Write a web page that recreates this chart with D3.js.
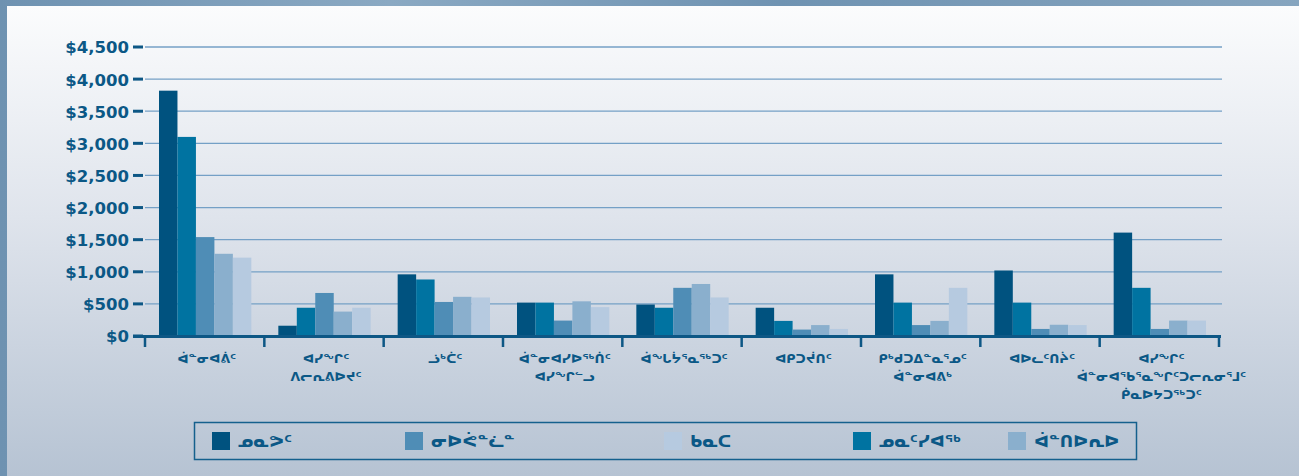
<!DOCTYPE html>
<html>
<head>
<meta charset="utf-8">
<script src="https://cdn.jsdelivr.net/npm/d3@7/dist/d3.min.js"></script>
<style>
  html, body { margin: 0; padding: 0; background: #6f93b2; }
  svg { display: block; }
</style>
</head>
<body>
<svg id="chart" width="1299" height="476"></svg>
<script>
// ---------- DATA ----------
const categories = [
  "ᐋᓐᓂᐊᕖᑦ",
  "ᐊᓯᖏᑦ\nᐱᓕᕆᕕᐅᔪᑦ",
  "ᓘᒃᑖᑦ",
  "ᐋᓐᓂᐊᓯᐅᖅᑏᑦ\nᐊᓯᖏᓪᓗ",
  "ᐋᖕᒐᔮᕐᓇᖅᑐᑦ",
  "ᐊᑭᑐᔫᑎᑦ",
  "ᑭᒃᑯᑐᐃᓐᓇᕐᓄᑦ\nᐋᓐᓂᐊᕕᒃ",
  "ᐊᐅᓚᑦᑎᔩᑦ",
  "ᐊᓯᖏᑦ\nᐋᓐᓂᐊᖃᕐᓇᖏᑦᑐᓕᕆᓂᕐᒧᑦ\nᑮᓇᐅᔭᑐᖅᑐᑦ"
];
const seriesNames = ["ᓄᓇᕗᑦ", "ᓄᓇᑦᓯᐊᖅ", "ᓂᐅᕚᓐᓛᓐ", "ᐋᓐᑎᐅᕆᐅ", "ᑲᓇᑕ"];
const nunavut      = [3820, 160, 960, 520, 490, 440, 960, 1020, 1610];
const nunatsiaq    = [3100, 440, 880, 520, 440, 235, 520, 520, 750];
const newfoundland = [1540, 670, 530, 240, 750, 100, 170, 110, 110];
const ontario      = [1280, 380, 610, 540, 810, 170, 235, 175, 240];
const canada       = [1220, 440, 600, 450, 600, 110, 750, 170, 240];
const seriesValues = [nunavut, nunatsiaq, newfoundland, ontario, canada];
const yTicks = [0, 500, 1000, 1500, 2000, 2500, 3000, 3500, 4000, 4500];
const legendOrder = ["ᓄᓇᕗᑦ", "ᓂᐅᕚᓐᓛᓐ", "ᑲᓇᑕ", "ᓄᓇᑦᓯᐊᖅ", "ᐋᓐᑎᐅᕆᐅ"];

// ---------- STYLE ----------
const colors = {
  "ᓄᓇᕗᑦ": "#00527f",
  "ᓄᓇᑦᓯᐊᖅ": "#0073a1",
  "ᓂᐅᕚᓐᓛᓐ": "#4f8db6",
  "ᐋᓐᑎᐅᕆᐅ": "#8aafcd",
  "ᑲᓇᑕ": "#b6cae0"
};
const textColor = "#0b5886";
const syllFont = "'DejaVu Sans', sans-serif";
const numFont = "'DejaVu Sans', sans-serif";

const svg = d3.select("#chart");
const W = 1299, H = 476;

// background
const defs = svg.append("defs");
const bg = defs.append("linearGradient").attr("id", "bg").attr("x1", 0).attr("y1", 0).attr("x2", 0).attr("y2", 1);
bg.append("stop").attr("offset", "0%").attr("stop-color", "#fbfcfd");
bg.append("stop").attr("offset", "45%").attr("stop-color", "#dfe4ec");
bg.append("stop").attr("offset", "100%").attr("stop-color", "#b6c3d3");
const water = defs.append("linearGradient").attr("id", "water").attr("x1", 0).attr("y1", 0).attr("x2", 1).attr("y2", 0);
water.append("stop").attr("offset", "0%").attr("stop-color", "#6e92b1");
water.append("stop").attr("offset", "30%").attr("stop-color", "#8aa9c3");
water.append("stop").attr("offset", "60%").attr("stop-color", "#6f93b2");
water.append("stop").attr("offset", "100%").attr("stop-color", "#86a5bf");

svg.append("rect").attr("x", 0).attr("y", 0).attr("width", W).attr("height", H).attr("fill", "url(#water)");
svg.append("rect").attr("x", 7).attr("y", 6).attr("width", W - 7).attr("height", H - 6).attr("fill", "url(#bg)");

// scales
const x0 = d3.scaleBand().domain(categories).range([145, 1219]).paddingInner(0).paddingOuter(0);
const inset = 14;
const x1 = d3.scaleBand().domain(seriesNames).range([inset, x0.bandwidth() - inset + 1]).padding(0);
const y = d3.scaleLinear().domain([0, 4500]).range([336, 47]);

// gridlines
svg.append("g").selectAll("line").data(yTicks.slice(1)).join("line")
  .attr("x1", 145).attr("x2", 1222)
  .attr("y1", d => y(d)).attr("y2", d => y(d))
  .attr("stroke", "#74a0c6").attr("stroke-width", 1.3);

// y axis tick dashes & labels
const yAxis = d3.axisLeft(y).tickValues(yTicks).tickSize(0).tickPadding(0)
  .tickFormat(d => "$" + d3.format(",")(d));
const gy = svg.append("g").attr("transform", "translate(129,0)").call(yAxis);
gy.select(".domain").remove();
gy.selectAll("text")
  .attr("x", 0).attr("dy", "0.36em")
  .attr("fill", textColor)
  .style("font-family", numFont).style("font-weight", 700).style("font-size", "16.5px");
svg.append("g").selectAll("line").data(yTicks).join("line")
  .attr("x1", 133).attr("x2", 143)
  .attr("y1", d => y(d)).attr("y2", d => y(d))
  .attr("stroke", "#0d5785").attr("stroke-width", 3);

// bars
const groups = svg.append("g").selectAll("g").data(categories).join("g")
  .attr("transform", c => `translate(${x0(c)},0)`);
groups.selectAll("rect")
  .data((c, ci) => seriesNames.map((s, si) => ({ s, v: seriesValues[si][ci] })))
  .join("rect")
  .attr("x", d => x1(d.s))
  .attr("width", x1.bandwidth())
  .attr("y", d => y(d.v))
  .attr("height", d => y(0) - y(d.v))
  .attr("fill", d => colors[d.s]);

// x axis
svg.append("line").attr("x1", 133).attr("x2", 1221).attr("y1", y(0) + 0.5).attr("y2", y(0) + 0.5)
  .attr("stroke", "#0d5785").attr("stroke-width", 3);
const xTickPos = categories.map(c => x0(c)).concat([x0.range()[1]]);
svg.append("g").selectAll("line").data(xTickPos).join("line")
  .attr("x1", d => d).attr("x2", d => d)
  .attr("y1", y(0)).attr("y2", y(0) + 11)
  .attr("stroke", "#0d5785").attr("stroke-width", 2.5);

// category labels
const lab = svg.append("g").selectAll("text").data(categories).join("text")
  .attr("text-anchor", "middle")
  .attr("fill", textColor)
  .style("font-family", syllFont).style("font-weight", 700).style("font-size", "12.5px");
lab.each(function (c) {
  const t = d3.select(this);
  c.split("\n").forEach((line, i) => {
    t.append("tspan").attr("x", x0(c) + x0.bandwidth() / 2 + 2).attr("y", 363 + i * 18).text(line);
  });
});

// legend
svg.append("rect").attr("x", 194.5).attr("y", 422.5).attr("width", 942).attr("height", 37)
  .attr("fill", "none").attr("stroke", "#14608d").attr("stroke-width", 1.5);
const legendX = [212, 405, 664, 853, 1008];
const lg = svg.append("g").selectAll("g").data(legendOrder).join("g")
  .attr("transform", (d, i) => `translate(${legendX[i]},432)`);
lg.append("rect").attr("width", 18).attr("height", 18).attr("fill", d => colors[d]);
lg.append("text").attr("x", 26).attr("y", 15).text(d => d)
  .attr("fill", textColor)
  .style("font-family", syllFont).style("font-weight", 700).style("font-size", "16.5px");
</script>
</body>
</html>
